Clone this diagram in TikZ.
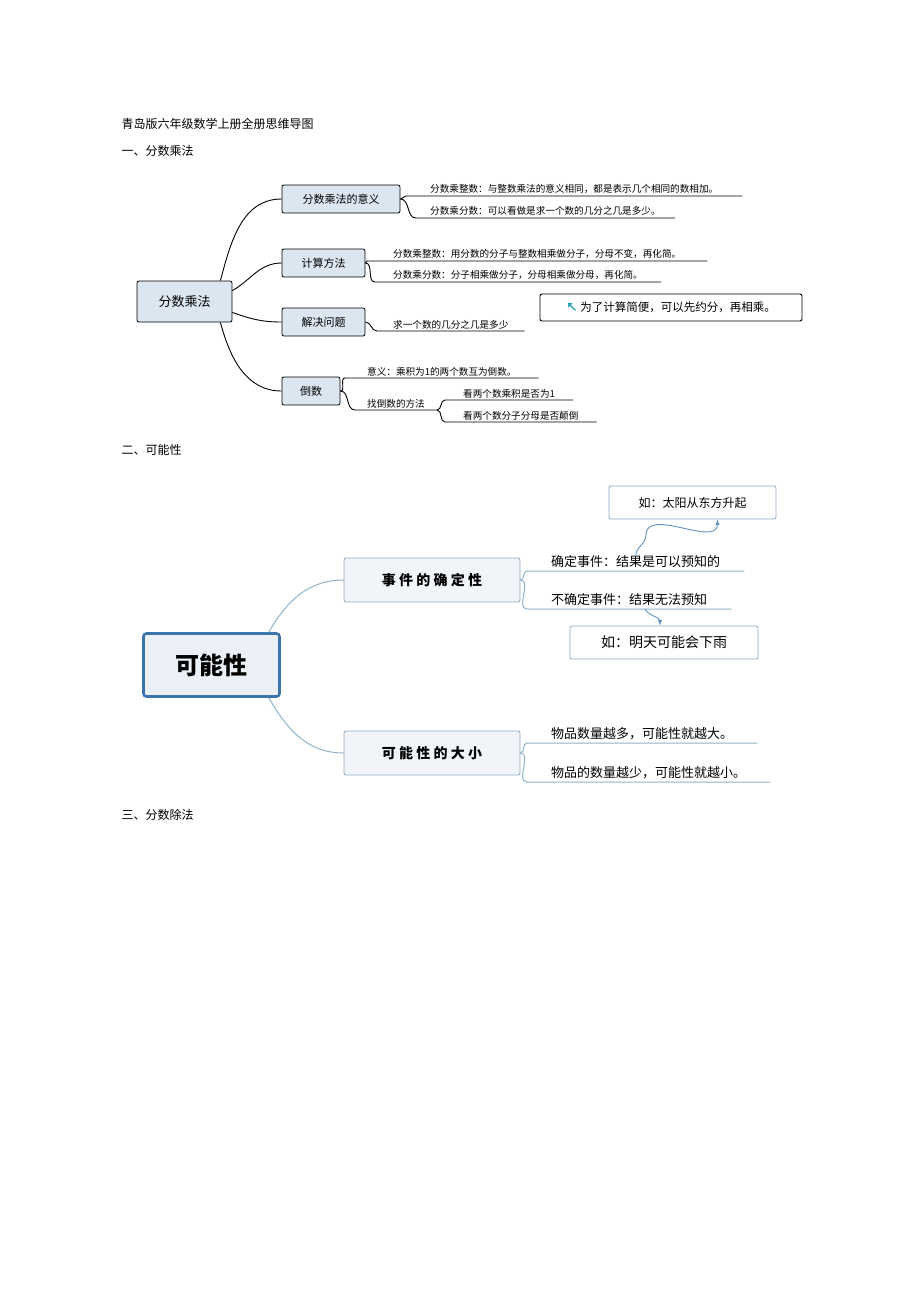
\documentclass[tikz,border=0pt]{standalone}
\usepackage{fontspec}
\setmainfont{Noto Sans CJK SC}
\usetikzlibrary{positioning}
\definecolor{boxfill}{HTML}{DCE6F0}
\definecolor{lineblue}{HTML}{8FB3C9}
\definecolor{boxblue}{HTML}{8EA9C6}
\definecolor{rootblue}{HTML}{3B75A9}
\definecolor{tealarrow}{HTML}{1A9AAF}
\tikzset{
  mbox/.style={draw=black, fill=boxfill, rounded corners=2pt, line width=0.8pt, font=\fontsize{11}{11}\selectfont, inner sep=0pt},
  leaf/.style={anchor=south west, inner xsep=10pt, inner ysep=2pt, font=\fontsize{9.6}{9.6}\selectfont},
  pbox/.style={draw=boxblue, fill=boxfill!40, rounded corners=2pt, line width=0.8pt, inner sep=0pt},
  pleaf/.style={anchor=south west, inner xsep=30pt, inner ysep=3pt, font=\fontsize{13}{13}\selectfont},
  heading/.style={anchor=west, font=\fontsize{12}{12}\selectfont}
}
\begin{document}
\begin{tikzpicture}[x=1pt,y=-1pt]
\useasboundingbox (0,0) rectangle (920,1302);
\node[heading] (title) at (118,124) {青岛版六年级数学上册全册思维导图};
\node[heading] (h1) at (118,151) {一、分数乘法};
\node[heading] (h2) at (118,450) {二、可能性};
\node[heading] (h3) at (118,815) {三、分数除法};
% part one
\node[mbox, minimum width=95, minimum height=41, font=\fontsize{13}{13}\selectfont] (root) at (184.5,301.5) {分数乘法};
\node[mbox, minimum width=118, minimum height=28] (yi) at (341,199) {分数乘法的意义};
\node[mbox, minimum width=83, minimum height=28] (ji) at (323.5,263) {计算方法};
\node[mbox, minimum width=83, minimum height=28] (jie) at (323.5,322) {解决问题};
\node[mbox, minimum width=58, minimum height=28] (dao) at (311,391) {倒数};
\draw[line width=0.9pt] (root.north east) ++(-12,0) to[out=75,in=180] (yi.west);
\draw[line width=0.9pt] (root.north east) ++(0,10) to[out=30,in=180] (ji.west);
\draw[line width=0.9pt] (root.south east) ++(0,-10) to[out=-20,in=180] (jie.west);
\draw[line width=0.9pt] (root.south east) ++(-12,0) to[out=-75,in=180] (dao.west);
\node[leaf, inner xsep=24pt] (yi1) at (406,196) {分数乘整数：与整数乘法的意义相同，都是表示几个相同的数相加。};
\node[leaf, inner xsep=14pt] (yi2) at (416,218) {分数乘分数：可以看做是求一个数的几分之几是多少。};
\node[leaf, inner xsep=26pt] (ji1) at (367,261) {分数乘整数：用分数的分子与整数相乘做分子，分母不变，再化简。};
\node[leaf, inner xsep=18pt] (ji2) at (375,282) {分数乘分数：分子相乘做分子，分母相乘做分母，再化简。};
\node[leaf, inner xsep=16pt] (jie1) at (377,331) {求一个数的几分之几是多少};
\node[leaf, inner xsep=22pt] (dao1) at (345,378) {意义：乘积为1的两个数互为倒数。};
\node[leaf, inner xsep=12pt] (dao2) at (355,410) {找倒数的方法};
\node[leaf, inner xsep=18pt] (dao21) at (445,400) {看两个数乘积是否为1};
\node[leaf, inner xsep=18pt] (dao22) at (445,422) {看两个数分子分母是否颠倒};
\foreach \p/\c in {yi/yi1, yi/yi2, ji/ji1, ji/ji2, jie/jie1, dao/dao1, dao/dao2}
  \draw[line width=0.9pt] (\p.east) to[out=0,in=180] (\c.south west) -- (\c.south east);
\foreach \c in {dao21, dao22}
  \draw[line width=0.9pt] (dao2.south east) to[out=0,in=180] (\c.south west) -- (\c.south east);
\node[draw=black, fill=white, rounded corners=2pt, line width=0.9pt, minimum width=262, minimum height=27, font=\fontsize{11.5}{11.5}\selectfont] (tip) at (671,307.5) {{\color{tealarrow}\textbf{↖}} 为了计算简便，可以先约分，再相乘。};
% part two
\node[draw=rootblue, fill=boxfill!60, line width=2.6pt, rounded corners=3pt, minimum width=136, minimum height=63, font=\fontsize{24}{24}\selectfont\bfseries] (proot) at (211.5,665) {可能性};
\node[pbox, minimum width=176, minimum height=44, font=\fontsize{14}{14}\selectfont\bfseries] (que) at (432,580) {事 件 的 确 定 性};
\node[pbox, minimum width=176, minimum height=44, font=\fontsize{14}{14}\selectfont\bfseries] (da) at (432,753) {可 能 性 的 大 小};
\draw[lineblue, line width=1pt] (proot.north east) ++(-12,0) to[out=60,in=180] (que.west);
\draw[lineblue, line width=1pt] (proot.south east) ++(-12,0) to[out=-60,in=180] (da.west);
\node[pleaf, inner xsep=24pt] (que1) at (527,571) {确定事件：结果是可以预知的};
\node[pleaf, inner xsep=24pt] (que2) at (527,609) {不确定事件：结果无法预知};
\node[pleaf, inner xsep=24pt] (da1) at (527,743) {物品数量越多，可能性就越大。};
\node[pleaf, inner xsep=24pt] (da2) at (527,782) {物品的数量越少，可能性就越小。};
\foreach \p/\c in {que/que1, que/que2, da/da1, da/da2}
  \draw[lineblue, line width=1pt] (\p.east) to[out=0,in=180] (\c.south west) -- (\c.south east);
\node[pbox, fill=white, minimum width=167, minimum height=33, font=\fontsize{12}{12}\selectfont\itshape] (eg1) at (692.5,502.5) {如：太阳从东方升起};
\node[pbox, fill=white, minimum width=188, minimum height=33, font=\fontsize{14}{14}\selectfont] (eg2) at (664,642.5) {如：明天可能会下雨};
\coordinate (a1) at (636,557);
\coordinate (a2) at (645,609);
\draw[rootblue!80, line width=0.9pt, -latex] (a1) to[out=100,in=-90] ++(10,-22) to[out=90,in=-90] ([xshift=25pt]eg1.south);
\draw[rootblue!80, line width=0.9pt, -latex] (a2) to[out=-60,in=90] ([xshift=-4pt]eg2.north);
\end{tikzpicture}
\end{document}
